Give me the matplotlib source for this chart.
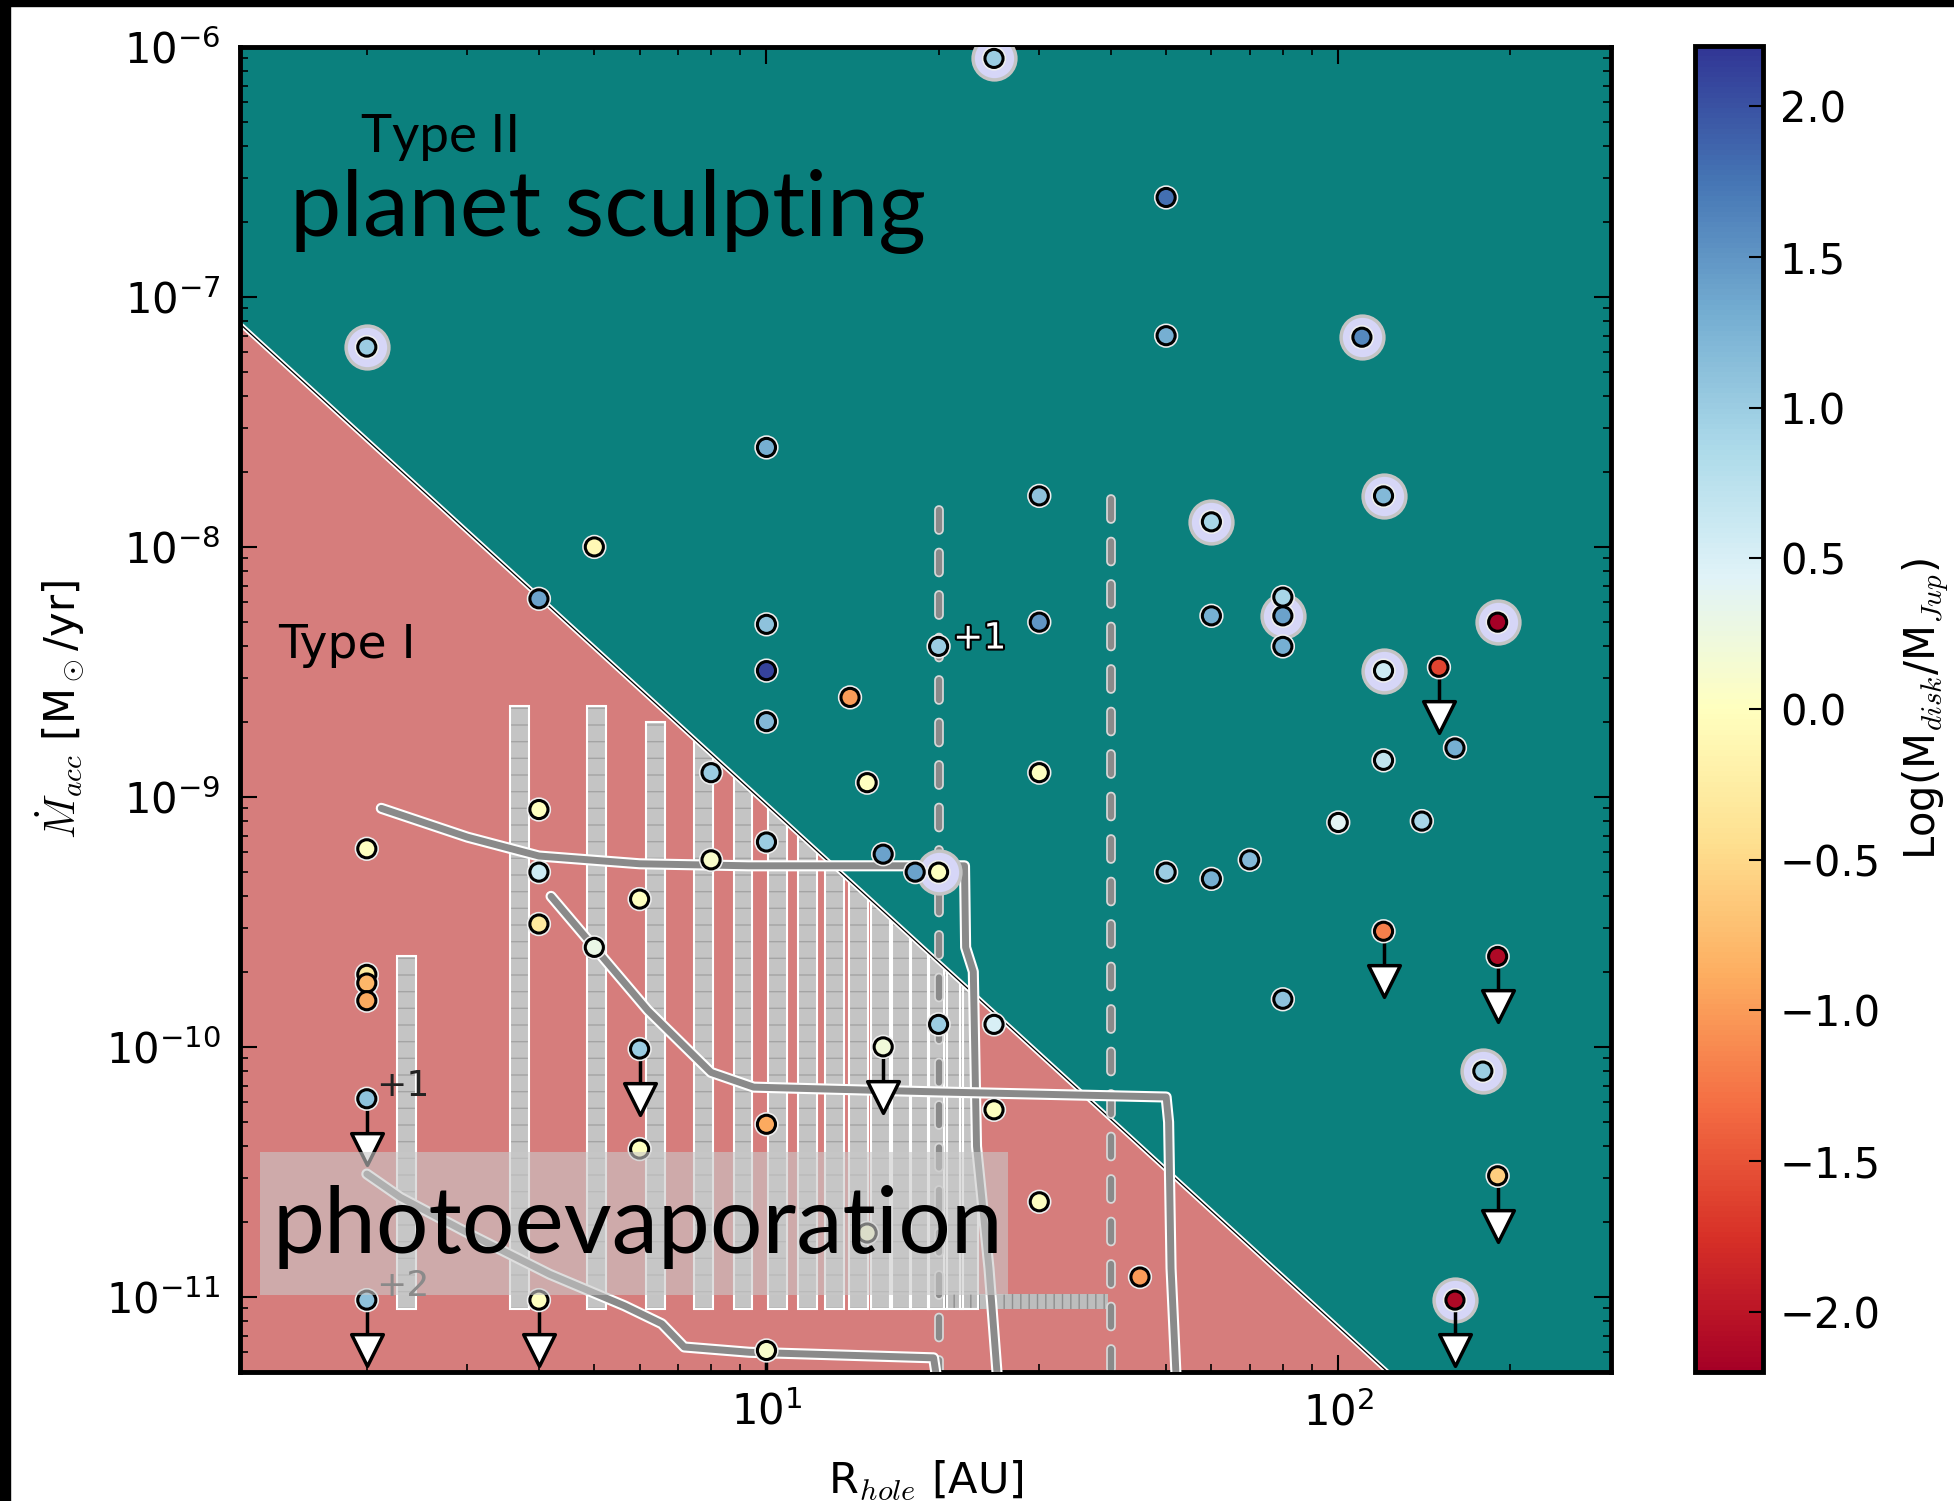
import matplotlib.pyplot as plt
import matplotlib.patheffects as pe
from matplotlib.patches import Polygon, Rectangle
from matplotlib.colors import Normalize
import numpy as np

plt.rcParams['font.family'] = ['DejaVu Sans']
plt.rcParams['mathtext.fontset'] = 'cm'

# transition discs: hole radius [AU], accretion rate [Msun/yr], log disc mass [MJup]
r_hole = [25, 2.0, 50, 50, 110, 10, 30, 60, 120, 5,
          4, 10, 10, 10, 14, 20, 30, 30, 60, 80,
          80, 80, 190, 120, 150, 120, 160, 100, 140, 50,
          60, 70, 80, 120, 190, 179, 190, 160, 45, 30,
          25, 25, 20, 20, 18.2, 16, 16, 10, 10, 10,
          15, 8, 8, 15, 6, 6, 6, 5, 4, 4,
          4, 4, 2, 2, 2, 2, 2, 2]
mdot = [9.0e-7, 6.3e-8, 2.5e-7, 7.0e-8, 6.9e-8, 2.5e-8, 1.6e-8, 1.26e-8, 1.6e-8, 1.0e-8,
        6.2e-9, 4.9e-9, 3.2e-9, 2.0e-9, 2.5e-9, 4.0e-9, 5.0e-9, 1.25e-9, 5.3e-9, 6.3e-9,
        5.3e-9, 4.0e-9, 5.0e-9, 3.2e-9, 3.3e-9, 1.4e-9, 1.57e-9, 7.9e-10, 8.0e-10, 5.0e-10,
        4.7e-10, 5.6e-10, 1.55e-10, 2.9e-10, 2.3e-10, 8.0e-11, 3.05e-11, 9.7e-12, 1.2e-11, 2.4e-11,
        5.6e-11, 1.23e-10, 1.23e-10, 5.0e-10, 5.0e-10, 5.9e-10, 1.0e-10, 6.6e-10, 4.9e-11, 6.1e-12,
        1.8e-11, 5.6e-10, 1.25e-9, 1.14e-9, 3.9e-10, 9.8e-11, 3.9e-11, 2.5e-10, 8.9e-10, 5.0e-10,
        3.1e-10, 9.7e-12, 6.2e-10, 1.95e-10, 1.8e-10, 1.53e-10, 6.2e-11, 9.7e-12]
log_mdisk = [1.0, 1.0, 1.8, 1.3, 1.6, 1.3, 1.1, 0.9, 1.2, -0.1,
             1.4, 1.1, 2.1, 1.2, -1.0, 1.0, 1.5, 0.0, 1.3, 0.9,
             1.4, 1.3, -2.2, 0.6, -1.6, 0.7, 1.3, 0.4, 0.9, 1.0,
             1.3, 1.2, 1.1, -1.2, -2.1, 1.0, -0.6, -2.1, -1.0, 0.0,
             0.0, 0.5, 1.0, 0.0, 1.4, 1.4, 0.2, 1.0, -0.9, 0.1,
             0.1, 0.1, 1.0, 0.0, 0.0, 1.0, 0.0, 0.3, 0.0, 0.6,
             -0.3, 0.0, 0.0, -0.3, -0.8, -0.9, 1.1, 1.1]
halo = [1, 1, 0, 0, 1, 0, 0, 1, 1, 0,
        0, 0, 0, 0, 0, 0, 0, 0, 0, 0,
        1, 0, 1, 1, 0, 0, 0, 0, 0, 0,
        0, 0, 0, 0, 0, 1, 0, 1, 0, 0,
        0, 0, 0, 1, 0, 0, 0, 0, 0, 0,
        0, 0, 0, 0, 0, 0, 0, 0, 0, 0,
        0, 0, 0, 0, 0, 0, 0, 0]
upper = [0, 0, 0, 0, 0, 0, 0, 0, 0, 0,
         0, 0, 0, 0, 0, 0, 0, 0, 0, 0,
         0, 0, 0, 0, 1, 0, 0, 0, 0, 0,
         0, 0, 0, 1, 1, 0, 1, 1, 0, 0,
         0, 0, 0, 0, 0, 0, 1, 0, 0, 1,
         0, 0, 0, 0, 0, 1, 0, 0, 0, 0,
         0, 1, 0, 0, 0, 0, 1, 1]

# planet / photoevaporation boundary (end points)
boundary_r = [1.2, 122]
boundary_mdot = [7.8e-8, 5e-12]

# photoevaporation model grid columns
grid_r = [2.35, 3.7, 5.05, 6.4, 7.75, 9.1, 10.45, 11.8, 13.15, 14.5,
          15.85, 17.2, 18.55, 19.9, 21.25, 22.6]
grid_top = [2.3e-10, 2.3e-9, 2.3e-9, 2.0e-9, 1e-6, 1e-6, 1e-6, 1e-6, 1e-6, 1e-6,
            1e-6, 1e-6, 1e-6, 1e-6, 1e-6, 1e-6]
grid_bottom = 8.9e-12
grid_half_dex = 0.0165
band_r = [20.3, 39.5]
band_mdot = [8.9e-12, 1.03e-11]

# evolutionary tracks
track_a_r = [2.12, 3.0, 4.0, 6.0, 9.3, 22.2, 22.3, 23.0, 23.3, 24.5, 25.3]
track_a_mdot = [9.0e-10, 6.9e-10, 5.8e-10, 5.4e-10, 5.3e-10, 5.3e-10, 2.5e-10, 2.0e-10,
                4.0e-11, 1.3e-11, 5e-12]
track_b_r = [4.2, 5.0, 6.2, 8.0, 9.5, 20, 50, 50.5, 51, 52]
track_b_mdot = [4.0e-10, 2.5e-10, 1.4e-10, 7.9e-11, 6.9e-11, 6.6e-11, 6.3e-11, 5.0e-11,
                1.3e-11, 5e-12]
track_c_r = [2.0, 2.29, 3.09, 4.18, 5.65, 6.56, 7.18, 9.33, 19.6, 19.8]
track_c_mdot = [3.1e-11, 2.5e-11, 1.74e-11, 1.23e-11, 9.2e-12, 7.8e-12, 6.3e-12, 6.0e-12,
                5.7e-12, 4.9e-12]

# dashed radii
dash_r = [20, 40]
dash_top = [1.4e-8, 1.55e-8]

teal = '#0b807d'
salmon = '#d67d7c'
track_grey = '#8a8a8a'
halo_col = '#d6d6f7'

fig = plt.figure(figsize=(19.54, 15.01), dpi=100)
ax = fig.add_axes([0.1228, 0.0859, 0.7017, 0.8828])
cax = fig.add_axes([0.8675, 0.0859, 0.0348, 0.8835])

ax.set_xscale('log')
ax.set_yscale('log')
ax.set_xlim(1.2, 300)
ax.set_ylim(5e-12, 1e-6)
ax.set_facecolor(teal)

red = Polygon([(boundary_r[0], boundary_mdot[0]), (boundary_r[1], boundary_mdot[1]),
               (boundary_r[0], boundary_mdot[1])], closed=True,
              facecolor=salmon, edgecolor='none', zorder=1)
ax.add_patch(red)
ax.plot(boundary_r, boundary_mdot, color='white', lw=3.5, zorder=2)
ax.plot(boundary_r, boundary_mdot, color='black', lw=0.9, zorder=2.1)

# model grid: narrow columns of constant width in log R
for r, top in zip(grid_r, grid_top):
    left = r * 10 ** -grid_half_dex
    width = r * 10 ** grid_half_dex - left
    rect = Rectangle((left, grid_bottom), width, top - grid_bottom,
                     facecolor='#c4c4c4', edgecolor='#a4a4a4', hatch='-', lw=0, zorder=1.5)
    ax.add_patch(rect)
    rect.set_clip_path(red)
    edge = Rectangle((left, grid_bottom), width, top - grid_bottom,
                     fill=False, edgecolor='white', lw=1.5, zorder=1.6)
    ax.add_patch(edge)
    edge.set_clip_path(red)
band = Rectangle((band_r[0], band_mdot[0]), band_r[1] - band_r[0], band_mdot[1] - band_mdot[0],
                 facecolor='#bdbdbd', edgecolor='#8e8e8e', hatch='||', lw=0, zorder=1.5)
ax.add_patch(band)

stroke = [pe.Stroke(linewidth=8, foreground='white'), pe.Normal()]
for tr, tm in [(track_a_r, track_a_mdot), (track_b_r, track_b_mdot), (track_c_r, track_c_mdot)]:
    ax.plot(tr, tm, color=track_grey, lw=5, solid_capstyle='round', solid_joinstyle='round',
            path_effects=stroke, zorder=3)

for r, top in zip(dash_r, dash_top):
    ax.plot([r, r], [top, 5e-12], color=track_grey, lw=4.5, dashes=(3.2, 3.6),
            dash_capstyle='round', zorder=2.5,
            path_effects=[pe.Stroke(linewidth=7, foreground='#d8d8d8'), pe.Normal()])

r_hole = np.array(r_hole)
mdot = np.array(mdot)
log_mdisk = np.array(log_mdisk)
halo = np.array(halo, dtype=bool)
upper = np.array(upper, dtype=bool)

norm = Normalize(vmin=-2.2, vmax=2.2)
cmap = plt.get_cmap('RdYlBu')

ax.scatter(r_hole[halo], mdot[halo], s=950, c=halo_col, edgecolors='#c4c4c4',
           linewidths=2.5, zorder=4)

# upper limits
tip = mdot[upper] * 10 ** -0.2
ax.vlines(r_hole[upper], tip, mdot[upper], color='black', lw=2.5, zorder=4.5)
ax.scatter(r_hole[upper], tip, marker='v', s=520, facecolors='white', edgecolors='black',
           linewidths=2.5, zorder=4.6)

sc = ax.scatter(r_hole, mdot, c=log_mdisk, cmap=cmap, norm=norm, s=170,
                edgecolors='black', linewidths=2.2, zorder=5,
                path_effects=[pe.Stroke(linewidth=4.5, foreground='#eeeeee'), pe.Normal()])

# label box
ax.add_patch(Rectangle((1.3, 1.02e-11), 26.5 - 1.3, 3.8e-11 - 1.02e-11,
                       facecolor='#c9c9c9', edgecolor='none', alpha=0.6, zorder=6))

big = dict(family=['Lato', 'DejaVu Sans'], color='black')
ax.text(1.47, 1.75e-7, 'planet sculpting', fontsize=66, zorder=7, **big)
ax.text(1.95, 3.8e-7, 'Type II', fontsize=38, zorder=7, **big)
ax.text(1.37, 1.5e-11, 'photoevaporation', fontsize=67, zorder=7, **big)
ax.text(1.40, 3.6e-9, 'Type I', fontsize=34, zorder=7, color='black')

ax.text(2.08, 7.0e-11, '+1', fontsize=26, color='#222222', va='center', zorder=7)
ax.text(2.08, 1.1e-11, '+2', fontsize=26, color='#8a8a8a', va='center', zorder=7)
ax.text(21.2, 4.3e-9, '+1', fontsize=26, color='white', va='center', zorder=7,
        path_effects=[pe.Stroke(linewidth=3, foreground='black'), pe.Normal()])

ax.set_xlabel(r'R$_{hole}$ [AU]', fontsize=31, labelpad=18)
ax.set_ylabel(r'$\dot{M}_{acc}$ [M$_\odot$/yr]', fontsize=30, labelpad=14)

ax.tick_params(which='both', direction='in', top=True, right=True, labelsize=30, pad=14)
ax.tick_params(which='major', length=12, width=1.5)
ax.tick_params(which='minor', length=6, width=1.2)
for s in ax.spines.values():
    s.set_linewidth(3.5)

cb = fig.colorbar(sc, cax=cax, ticks=np.arange(-2.0, 2.01, 0.5))
cb.outline.set_linewidth(3.5)
cb.ax.tick_params(direction='in', length=10, width=1.5, labelsize=30, pad=12)
cb.set_label(r'Log(M$_{disk}$/M$_{Jup}$)', fontsize=30, labelpad=14)

# black frame on the left and top edges
fig.add_artist(Rectangle((0, 0), 10 / 1954, 1, transform=fig.transFigure, color='black'))
fig.add_artist(Rectangle((0, 1 - 6 / 1501), 1, 6 / 1501, transform=fig.transFigure, color='black'))

fig.savefig('out.png', dpi=100)
